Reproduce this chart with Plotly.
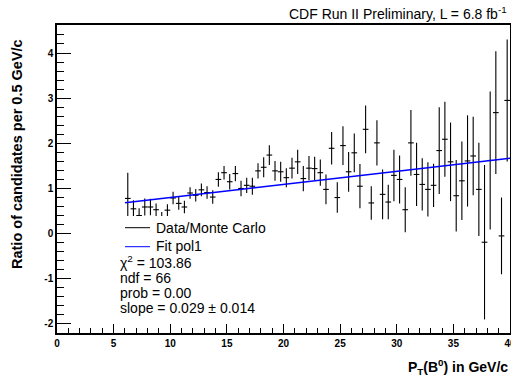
import numpy as np
import plotly.graph_objects as go

# ---------------- data ----------------
BIN_WIDTH = 0.5
pt_centers = [6.25 + 0.5 * i for i in range(68)]
ratio = [0.78, 0.55, 0.40, 0.59, 0.59, 0.53, 0.36, 0.52, 0.79, 0.67,
         0.59, 0.90, 0.85, 0.97, 0.91, 0.81, 1.20, 1.35, 1.15, 1.33,
         1.00, 1.07, 1.05, 1.39, 1.47, 1.74, 1.39, 1.37, 1.24, 1.45,
         1.59, 1.22, 1.45, 1.44, 1.35, 0.98, 1.89, 0.80, 1.95, 1.37,
         1.79, 1.05, 2.31, 0.68, 2.01, 0.87, 0.70, 1.29, 1.20, 0.53,
         2.01, 1.31, 1.09, 0.98, 1.07, 1.84, 2.09, 1.59, 0.84, 1.17,
         1.61, 1.72, 0.98, -0.19, 1.62, 2.68, -0.05, 2.95]
ratio_err = [0.57, 0.19, 0.16, 0.19, 0.18, 0.14, 0.12, 0.13, 0.14, 0.14,
             0.14, 0.13, 0.14, 0.14, 0.14, 0.15, 0.16, 0.15, 0.17, 0.17,
             0.17, 0.17, 0.19, 0.17, 0.22, 0.22, 0.22, 0.22, 0.21, 0.23,
             0.27, 0.28, 0.27, 0.26, 0.29, 0.33, 0.36, 0.34, 0.43, 0.44,
             0.43, 0.49, 0.53, 0.37, 0.50, 0.55, 0.38, 0.57, 0.53, 0.50,
             0.73, 0.70, 0.58, 0.60, 0.48, 0.96, 0.83, 0.87, 0.79, 0.87,
             1.01, 0.87, 1.03, 1.71, 1.53, 1.36, 0.85, 1.35]

fit_params = [0.51, 0.029]      # pol1: p0, p1
fit_range = [6.0, 40.0]

x_ticks = [0, 5, 10, 15, 20, 25, 30, 35, 40]
x_tick_labels = ["0", "5", "10", "15", "20", "25", "30", "35", "40"]
y_ticks = [-2, -1, 0, 1, 2, 3, 4]
y_tick_labels = ["-2", "-1", "0", "1", "2", "3", "4"]

legend_lines = ["Data/Monte Carlo", "Fit pol1"]
stat_lines = ["χ<sup>2</sup> = 103.86", "ndf = 66", "prob = 0.00",
              "slope = 0.029 ± 0.014"]

# ---------------- layout geometry (pixels) ----------------
W, H = 511, 378
L, R, T, B = 57, 1, 25, 45
PW, PH = W - L - R, H - T - B
FONT = "Liberation Sans, Arial, Helvetica, sans-serif"


def xp(px):
    return (px - L) / PW


def yp(py):
    return (H - B - py) / PH


fig = go.Figure()

fig.add_trace(go.Scatter(
    x=pt_centers, y=ratio, mode="markers",
    marker=dict(size=0.1, color="black"),
    error_y=dict(type="data", array=ratio_err, visible=True,
                 color="black", thickness=1.1, width=0),
    error_x=dict(type="constant", value=BIN_WIDTH / 2, visible=True,
                 color="black", thickness=1.1, width=0),
    showlegend=False, hoverinfo="skip"))

fx = np.array(fit_range)
fy = fit_params[0] + fit_params[1] * fx
fig.add_trace(go.Scatter(x=fx, y=fy, mode="lines",
                         line=dict(color="#0000ff", width=1.5),
                         showlegend=False, hoverinfo="skip"))

shapes = []
# white legend pave (covers data underneath, as in ROOT)
shapes.append(dict(type="rect", xref="paper", yref="paper",
                   x0=xp(113), x1=xp(300), y0=yp(320), y1=yp(216),
                   fillcolor="white", line=dict(width=0), layer="above"))
# legend samples
shapes.append(dict(type="line", xref="paper", yref="paper",
                   x0=xp(125), x1=xp(150), y0=yp(227.7), y1=yp(227.7),
                   line=dict(color="black", width=1), layer="above"))
shapes.append(dict(type="line", xref="paper", yref="paper",
                   x0=xp(125), x1=xp(150), y0=yp(246.7), y1=yp(246.7),
                   line=dict(color="#0000ff", width=1), layer="above"))

ann = []
for txt, py in zip(legend_lines, [228, 246.5]):
    ann.append(dict(text=txt, xref="paper", yref="paper", x=xp(154), y=yp(py),
                    xanchor="left", yanchor="middle", showarrow=False,
                    font=dict(family=FONT, size=14, color="black")))
for txt, py in zip(stat_lines, [261.5, 277.5, 292.5, 307.5]):
    ann.append(dict(text=txt, xref="paper", yref="paper", x=xp(118), y=yp(py),
                    xanchor="left", yanchor="middle", showarrow=False,
                    font=dict(family=FONT, size=14, color="black")))
ann.append(dict(text="CDF Run II Preliminary, L = 6.8 fb<sup>-1</sup>",
                xref="paper", yref="paper", x=xp(509), y=yp(13),
                xanchor="right", yanchor="middle", showarrow=False,
                font=dict(family=FONT, size=14, color="black")))
ann.append(dict(text="<b>P<sub>T</sub>(B<sup>0</sup>) in GeV/c</b>",
                xref="paper", yref="paper", x=xp(510), y=yp(367),
                xanchor="right", yanchor="middle", showarrow=False,
                font=dict(family=FONT, size=14, color="black")))
ann.append(dict(text="<b>Ratio of candidates per 0.5 GeV/c</b>",
                xref="paper", yref="paper", x=xp(17), y=yp(37),
                xanchor="center", yanchor="top", textangle=-90,
                showarrow=False,
                font=dict(family=FONT, size=14.5, color="black")))

fig.update_layout(
    width=W, height=H, margin=dict(l=L, r=R, t=T, b=B, pad=0,
                                   autoexpand=False),
    paper_bgcolor="white", plot_bgcolor="white",
    font=dict(family=FONT, size=10, color="black"),
    shapes=shapes, annotations=ann,
    xaxis=dict(range=[0, 40], tickvals=x_ticks, ticktext=x_tick_labels,
               ticklabeloverflow="allow", automargin=False,
               ticks="inside", ticklen=9, tickwidth=1, tickcolor="black",
               minor=dict(dtick=1, tick0=0, ticks="inside", ticklen=5,
                          tickwidth=1, tickcolor="black"),
               showline=True, linecolor="black", linewidth=1.5, mirror=True,
               showgrid=False, zeroline=False,
               tickfont=dict(family=FONT, size=10, color="black", weight="bold")),
    yaxis=dict(range=[-2.2, 4.62], tickvals=y_ticks, ticktext=y_tick_labels,
               automargin=False,
               ticks="inside", ticklen=14, tickwidth=1, tickcolor="black",
               minor=dict(dtick=0.2, tick0=0, ticks="inside", ticklen=7,
                          tickwidth=1, tickcolor="black"),
               showline=True, linecolor="black", linewidth=1.5, mirror=True,
               showgrid=False, zeroline=False,
               tickfont=dict(family=FONT, size=10, color="black", weight="bold")),
)

fig.write_html("out.html")
